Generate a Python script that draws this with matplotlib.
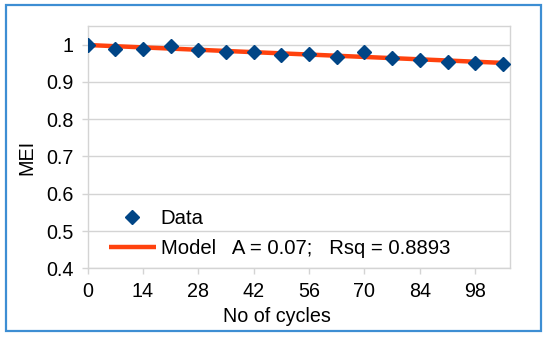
import matplotlib
matplotlib.use("Agg")
import matplotlib.pyplot as plt
from matplotlib.patches import Rectangle

plt.rcParams['font.family'] = ['Liberation Sans', 'DejaVu Sans']

# Data
cycles = [0, 7, 14, 21, 28, 35, 42, 49, 56, 63, 70, 77, 84, 91, 98, 105]
mei = [1.000, 0.988, 0.988, 0.996, 0.985, 0.981, 0.979, 0.973,
       0.975, 0.968, 0.981, 0.963, 0.958, 0.953, 0.952, 0.949]
model_cycles = [0, 105]
model_mei = [0.999, 0.951]
x_ticks = [0, 14, 28, 42, 56, 70, 84, 98]
y_ticks = [0.4, 0.5, 0.6, 0.7, 0.8, 0.9, 1.0]
y_tick_labels = ['0.4', '0.5', '0.6', '0.7', '0.8', '0.9', '1']

W, H = 550, 340
FS = 14.2
fig = plt.figure(figsize=(5.5, 3.4), dpi=100)
fig.patch.set_facecolor('white')

# outer blue frame
fig.patches.append(Rectangle((6 / W, 1 - 331 / H), (541 - 6) / W, (331 - 5) / H,
                             transform=fig.transFigure, fill=False,
                             edgecolor='#3d8ed3', linewidth=1.6))

ax = fig.add_axes([87.7 / W, 1 - 268.3 / H, (510 - 87.7) / W, (268.3 - 26) / H])

grid_c = '#d4d4d4'
ax.set_xlim(0, 106.8)
ax.set_ylim(0.4, 1.05)
ax.set_yticks(y_ticks)
ax.set_yticklabels(y_tick_labels)
ax.set_xticks(x_ticks)
ax.yaxis.grid(True, color=grid_c, linewidth=1.0)
ax.set_axisbelow(True)
for s in ax.spines.values():
    s.set_color(grid_c)
    s.set_linewidth(1.0)
ax.tick_params(axis='both', colors=grid_c, labelcolor='black', labelsize=FS,
               length=4, width=1.0, direction='out')
ax.tick_params(axis='y', pad=6)
ax.tick_params(axis='x', pad=6)

line, = ax.plot(model_cycles, model_mei, color='#ff420e', linewidth=3.2,
                solid_capstyle='butt', zorder=2,
                label='Model   A = 0.07;   Rsq = 0.8893')
pts, = ax.plot(cycles, mei, linestyle='none', marker='D', markersize=6.8,
               color='#004586', zorder=3, label='Data')

leg = ax.legend(handles=[pts, line], loc='upper left',
                bbox_to_anchor=(109 / W, 1 - 209 / H), bbox_transform=fig.transFigure,
                frameon=False, fontsize=14.6, handlelength=2.3, handletextpad=0.25,
                labelspacing=0.55, borderpad=0, borderaxespad=0, numpoints=1)

fig.text(277 / W, 1 - 317 / H, 'No of cycles', ha='center', va='center', fontsize=FS)
fig.text(27 / W, 1 - 157 / H, 'MEI', ha='center', va='center', rotation=90, fontsize=FS)

fig.savefig('out.png', dpi=100, facecolor='white')
